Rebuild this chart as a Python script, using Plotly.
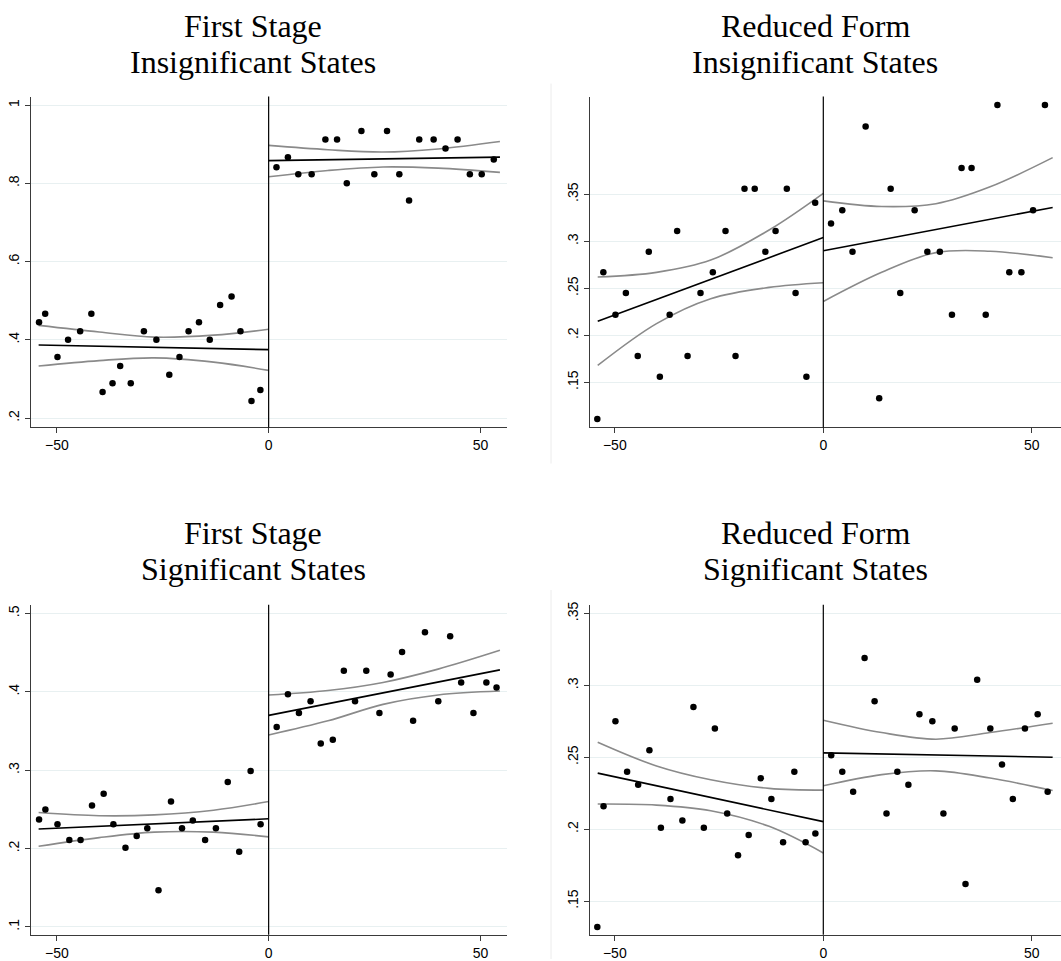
import plotly.graph_objects as go

W, H = 1061, 961

# ---------------- data ----------------
# bin centres (running variable), insignificant-state panels
x_insig_left = [-54.2, -52.75, -49.85, -47.35, -44.5, -41.85, -39.2, -36.85, -35.05, -32.55, -29.45,
                -26.5, -23.45, -21.05, -18.9, -16.45, -13.9, -11.45, -8.75, -6.65, -4.05, -1.95]
x_insig_right = [1.85, 4.55, 7.0, 10.15, 13.4, 16.15, 18.45, 21.9, 24.95, 27.95, 30.85, 33.15, 35.55,
                 38.95, 41.75, 44.6, 47.5, 50.3, 53.15]
# bin centres, significant-state panels
x_sig_left = [-54.2, -52.7, -49.85, -47.05, -44.4, -41.7, -38.95, -36.65, -33.8, -31.15, -28.65,
              -26.0, -23.05, -20.45, -17.9, -15.0, -12.45, -9.65, -6.95, -4.25, -1.9]
x_sig_right = [1.9, 4.55, 7.15, 9.9, 12.3, 15.15, 17.75, 20.4, 23.05, 26.15, 28.8, 31.5, 34.1, 36.9,
               40.05, 42.85, 45.45, 48.35, 51.4, 53.8]

# First stage, insignificant states
fs_ins_left = [0.445, 0.467, 0.356, 0.400, 0.422, 0.467, 0.267, 0.289, 0.333, 0.289, 0.422,
               0.400, 0.311, 0.356, 0.422, 0.445, 0.400, 0.489, 0.511, 0.422, 0.244, 0.272]
fs_ins_right = [0.841, 0.867, 0.823, 0.823, 0.912, 0.912, 0.800, 0.934, 0.823, 0.934, 0.823,
                0.756, 0.912, 0.912, 0.889, 0.912, 0.823, 0.823, 0.861]
# Reduced form, insignificant states
rf_ins_left = [0.111, 0.267, 0.222, 0.245, 0.178, 0.289, 0.156, 0.222, 0.311, 0.178, 0.245,
               0.267, 0.311, 0.178, 0.356, 0.356, 0.289, 0.311, 0.356, 0.245, 0.156, 0.341]
rf_ins_right = [0.319, 0.333, 0.289, 0.422, 0.133, 0.356, 0.245, 0.333, 0.289, 0.289, 0.222,
                0.378, 0.378, 0.222, 0.445, 0.267, 0.267, 0.333, 0.445]
# First stage, significant states
fs_sig_left = [0.237, 0.250, 0.231, 0.211, 0.211, 0.255, 0.270, 0.231, 0.201, 0.216, 0.226,
               0.147, 0.260, 0.226, 0.236, 0.211, 0.226, 0.285, 0.196, 0.299, 0.231]
fs_sig_right = [0.355, 0.397, 0.373, 0.388, 0.334, 0.339, 0.427, 0.388, 0.427, 0.373, 0.422,
                0.451, 0.363, 0.476, 0.388, 0.471, 0.412, 0.373, 0.412, 0.4055]
# Reduced form, significant states
rf_sig_left = [0.132, 0.216, 0.275, 0.240, 0.231, 0.255, 0.201, 0.221, 0.206, 0.285, 0.201,
               0.270, 0.211, 0.182, 0.196, 0.2355, 0.221, 0.191, 0.240, 0.191, 0.197]
rf_sig_right = [0.2515, 0.240, 0.226, 0.319, 0.289, 0.211, 0.240, 0.231, 0.280, 0.275, 0.211,
                0.270, 0.162, 0.304, 0.270, 0.245, 0.221, 0.270, 0.280, 0.226]

# linear fits (end points) and 95% CI bands read at grid points
ci_x_left = [-54.2, -40, -27, -13, 0]
ci_x_right = [0, 14, 27, 40, 54.8]

fs_ins_fit_l = [0.387, 0.375]
fs_ins_hi_l = [0.437, 0.420, 0.407, 0.412, 0.427]
fs_ins_lo_l = [0.333, 0.347, 0.354, 0.343, 0.322]
fs_ins_fit_r = [0.858, 0.867]
fs_ins_hi_r = [0.897, 0.886, 0.880, 0.888, 0.907]
fs_ins_lo_r = [0.817, 0.833, 0.842, 0.839, 0.828]

rf_ins_fit_l = [0.215, 0.304]
rf_ins_hi_l = [0.262, 0.267, 0.280, 0.312, 0.351]
rf_ins_lo_l = [0.168, 0.2125, 0.239, 0.251, 0.256]
rf_ins_fit_r = [0.290, 0.336]
rf_ins_hi_r = [0.343, 0.337, 0.340, 0.358, 0.389]
rf_ins_lo_r = [0.236, 0.267, 0.288, 0.2895, 0.2825]

fs_sig_fit_l = [0.225, 0.238]
fs_sig_hi_l = [0.246, 0.242, 0.243, 0.249, 0.260]
fs_sig_lo_l = [0.203, 0.214, 0.221, 0.221, 0.215]
fs_sig_fit_r = [0.370, 0.428]
fs_sig_hi_r = [0.396, 0.4017, 0.412, 0.429, 0.453]
fs_sig_lo_r = [0.345, 0.363, 0.384, 0.396, 0.401]

rf_sig_fit_l = [0.239, 0.2053]
rf_sig_hi_l = [0.2605, 0.244, 0.2344, 0.2284, 0.2272]
rf_sig_lo_l = [0.2175, 0.2168, 0.2129, 0.202, 0.1835]
rf_sig_fit_r = [0.2531, 0.2501]
rf_sig_hi_r = [0.2758, 0.2672, 0.2626, 0.2672, 0.2737]
rf_sig_lo_r = [0.2302, 0.238, 0.2406, 0.2356, 0.227]

x_ticks = [-50, 0, 50]
x_ticktext = ["\u221250", "0", "50"]
y1_ticks = [0.2, 0.4, 0.6, 0.8, 1.0]
y1_text = [".2", ".4", ".6", ".8", "1"]
y2_ticks = [0.15, 0.2, 0.25, 0.3, 0.35]
y2_text = [".15", ".2", ".25", ".3", ".35"]
y3_ticks = [0.1, 0.2, 0.3, 0.4, 0.5]
y3_text = [".1", ".2", ".3", ".4", ".5"]
y4_ticks = [0.15, 0.2, 0.25, 0.3, 0.35]
y4_text = [".15", ".2", ".25", ".3", ".35"]

titles = [("First Stage", "Insignificant States"), ("Reduced Form", "Insignificant States"),
          ("First Stage", "Significant States"), ("Reduced Form", "Significant States")]

# ---------------- figure ----------------
fig = go.Figure()

CI_COL = "#8a8a8a"
panels = [
    (x_insig_left, fs_ins_left, x_insig_right, fs_ins_right,
     fs_ins_fit_l, fs_ins_hi_l, fs_ins_lo_l, fs_ins_fit_r, fs_ins_hi_r, fs_ins_lo_r, -54.3, 54.6),
    (x_insig_left, rf_ins_left, x_insig_right, rf_ins_right,
     rf_ins_fit_l, rf_ins_hi_l, rf_ins_lo_l, rf_ins_fit_r, rf_ins_hi_r, rf_ins_lo_r, -54.1, 55.0),
    (x_sig_left, fs_sig_left, x_sig_right, fs_sig_right,
     fs_sig_fit_l, fs_sig_hi_l, fs_sig_lo_l, fs_sig_fit_r, fs_sig_hi_r, fs_sig_lo_r, -54.3, 54.6),
    (x_sig_left, rf_sig_left, x_sig_right, rf_sig_right,
     rf_sig_fit_l, rf_sig_hi_l, rf_sig_lo_l, rf_sig_fit_r, rf_sig_hi_r, rf_sig_lo_r, -54.1, 55.0),
]

for i, (xl, yl, xr, yr, fl, hl, ll, fr, hr, lr, xmin, xmax) in enumerate(panels):
    ax = "" if i == 0 else str(i + 1)
    xa, ya = "x" + ax, "y" + ax
    cxl = [xmin] + ci_x_left[1:]
    cxr = ci_x_right[:-1] + [xmax]
    for cx, cy in ((cxl, hl), (cxl, ll), (cxr, hr), (cxr, lr)):
        fig.add_trace(go.Scatter(x=cx, y=cy, mode="lines", line=dict(color=CI_COL, width=1.6, shape="spline"),
                                 xaxis=xa, yaxis=ya, hoverinfo="skip"))
    fig.add_trace(go.Scatter(x=[xmin, 0], y=fl, mode="lines", line=dict(color="black", width=1.6),
                             xaxis=xa, yaxis=ya))
    fig.add_trace(go.Scatter(x=[0, xmax], y=fr, mode="lines", line=dict(color="black", width=1.6),
                             xaxis=xa, yaxis=ya))
    fig.add_trace(go.Scatter(x=xl + xr, y=yl + yr, mode="markers",
                             marker=dict(color="black", size=6.5, line=dict(width=0)),
                             xaxis=xa, yaxis=ya))
    fig.add_shape(type="line", xref=xa, yref=ya + " domain", x0=0, x1=0, y0=0, y1=1,
                  line=dict(color="black", width=1.2))


def px(v):
    return v / W


def py(v):
    return 1 - v / H


x_dom_left = [px(31), px(506.7)]
x_dom_right = [px(590), 1.0]
y_dom_top = [py(426.7), py(94)]
y_dom_bot = [py(936.7), py(605)]

x_range_left = [-56.1, 56.2]
x_range_right = [-55.95, 57.0]
y_ranges = [[0.176, 1.022], [0.102, 0.454], [0.090, 0.511], [0.1266, 0.356]]
y_tick_sets = [(y1_ticks, y1_text), (y2_ticks, y2_text), (y3_ticks, y3_text), (y4_ticks, y4_text)]

tick_font = dict(family="Liberation Sans, Arial, sans-serif", size=14, color="black")
axis_common = dict(showline=True, linecolor="#3a3a3a", linewidth=1, ticks="outside", ticklen=5,
                   tickcolor="#3a3a3a", tickwidth=1, tickfont=tick_font, zeroline=False)

layout = {}
for i in range(4):
    ax = "" if i == 0 else str(i + 1)
    left = i in (0, 2)
    top = i in (0, 1)
    layout["xaxis" + ax] = dict(domain=x_dom_left if left else x_dom_right,
                                range=x_range_left if left else x_range_right,
                                anchor="y" + ax, tickvals=x_ticks, ticktext=x_ticktext,
                                showgrid=False, **axis_common)
    tv, tt = y_tick_sets[i]
    layout["yaxis" + ax] = dict(domain=y_dom_top if top else y_dom_bot, range=y_ranges[i],
                                anchor="x" + ax, tickvals=tv, ticktext=tt, tickangle=-90,
                                showgrid=True, gridcolor="#e8f0f1", gridwidth=1, **axis_common)

fig.update_layout(**layout)

title_font = dict(family="Liberation Serif, DejaVu Serif, serif", size=32, color="black")
centers = [253, 815, 253, 815]
line_y = [(23, 59), (23, 59), (533, 569), (533, 569)]
for (t1, t2), cx, (y1, y2) in zip(titles, centers, line_y):
    for txt, yy in ((t1, y1), (t2, y2)):
        fig.add_annotation(text=txt, x=px(cx), y=py(yy), xref="paper", yref="paper",
                           xanchor="center", yanchor="middle", showarrow=False, font=title_font)

# faint outer border of the right-hand graphs
fig.add_shape(type="line", xref="paper", yref="paper", x0=px(551), x1=px(551), y0=py(81), y1=py(463),
              line=dict(color="#ececec", width=1))
fig.add_shape(type="line", xref="paper", yref="paper", x0=px(551), x1=px(551), y0=py(590), y1=py(961),
              line=dict(color="#ececec", width=1))

fig.update_layout(width=W, height=H, margin=dict(l=0, r=0, t=0, b=0), showlegend=False,
                  paper_bgcolor="white", plot_bgcolor="white")

fig.write_html("out.html")
